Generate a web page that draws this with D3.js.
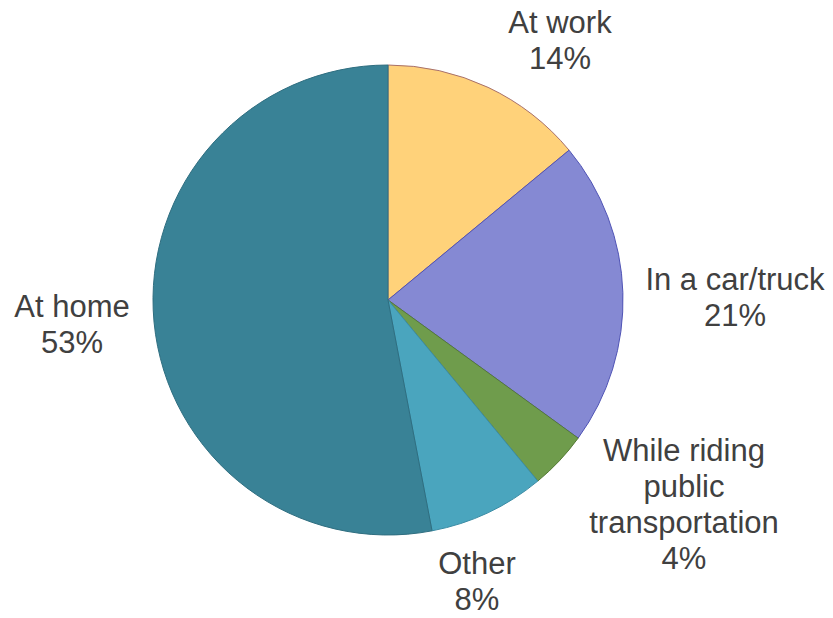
<!DOCTYPE html>
<html>
<head>
<meta charset="utf-8">
<script src="https://cdn.jsdelivr.net/npm/d3@7/dist/d3.min.js"></script>
<style>
  html, body { margin: 0; padding: 0; background: #fff; }
  svg { display: block; }
  text { font-family: "Liberation Sans", Arial, sans-serif; fill: #404040; }
</style>
</head>
<body>
<svg id="chart" width="833" height="618"></svg>
<script>
// Where people are when they ...: share by location (percent)
const categories = ["At work", "In a car/truck", "While riding public transportation", "Other", "At home"];
const values = [14, 21, 4, 8, 53];
const labelLines = [
  ["At work", "14%"],
  ["In a car/truck", "21%"],
  ["While riding", "public", "transportation", "4%"],
  ["Other", "8%"],
  ["At home", "53%"]
];
const fills = ["#FFD27A", "#8589D3", "#6F9C4C", "#4AA5BE", "#398296"];
const strokes = ["#A8706A", "#4F53B5", "#557A36", "#3B8CA5", "#2F6E80"];

const svg = d3.select("#chart");
const cx = 388, cy = 300, r = 235;

const pie = d3.pie().sort(null).value(d => d)
  .startAngle(0).endAngle(2 * Math.PI);
const arcs = pie(values);
const arc = d3.arc().innerRadius(0).outerRadius(r);

const g = svg.append("g").attr("transform", `translate(${cx},${cy})`);
g.selectAll("path.slice")
  .data(arcs)
  .join("path")
  .attr("class", "slice")
  .attr("d", arc)
  .attr("fill", (d, i) => fills[i])
  .attr("stroke", (d, i) => strokes[i])
  .attr("stroke-width", 1)
  .attr("stroke-linejoin", "round");

// Label anchors (center x, first baseline y), placed outside each slice
const labelPos = [
  [560, 33],
  [735, 290],
  [684, 461],
  [477, 574],
  [72, 317]
];
const lineH = 36;

svg.selectAll("text.lbl")
  .data(labelLines)
  .join("text")
  .attr("class", "lbl")
  .attr("text-anchor", "middle")
  .attr("font-size", 31)
  .each(function (lines, i) {
    const t = d3.select(this);
    lines.forEach((s, k) => {
      t.append("tspan")
        .attr("x", labelPos[i][0])
        .attr("y", labelPos[i][1] + k * lineH)
        .text(s);
    });
  });
</script>
</body>
</html>
